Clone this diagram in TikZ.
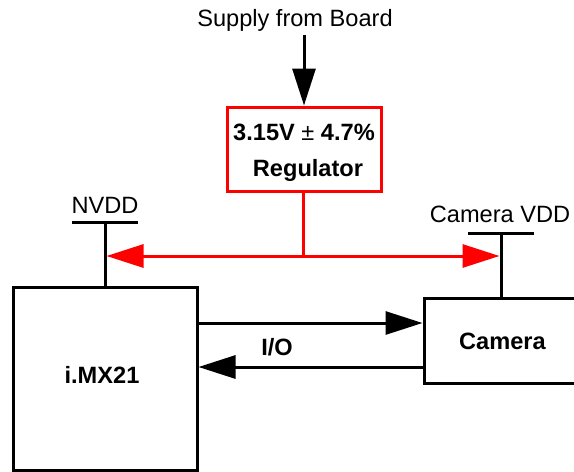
\documentclass[tikz,border=0pt]{standalone}
\usepackage{fontspec}
\setmainfont{Liberation Sans}
\usetikzlibrary{arrows.meta,calc}
\begin{document}
\begin{tikzpicture}[x=1pt,y=-1pt,
  txt/.style={font=\fontsize{23.6}{28}\selectfont, inner sep=0pt, anchor=base},
  btxt/.style={font=\fontsize{23.6}{28}\selectfont\bfseries, inner sep=0pt, anchor=base},
  blk/.style={draw=black, line width=3pt, minimum width=#1},
  bigarrow/.style={-{Triangle[length=37pt,width=23pt]}},
  wire/.style={line width=3pt},
  ]
\clip (0,0) rectangle (574,472);
\fill[white] (0,0) rectangle (574,472);
% boxes
\node[draw=red, line width=3pt, minimum width=154pt, minimum height=84pt, inner sep=0pt] (reg) at (304,149) {};
\node[blk=184pt, minimum height=183pt, inner sep=0pt] (imx) at (105,378.5) {};
\node[blk=170pt, minimum height=85pt, inner sep=0pt] (camera) at (509,340.5) {};
% texts
\node[txt] (supply) at (295,26) {Supply from Board};
\node[btxt] (regl1) at (304,140) {3.15V {\mdseries ±} 4.7\%};
\node[btxt] (regl2) at (308,176) {Regulator};
\node[btxt] (imxl) at (102,383) {i.MX21};
\node[btxt] (caml) at (502.5,349) {Camera};
\node[btxt] (io) at (277,355) {I/O};
\node[txt] (nvddl) at (105,213) {NVDD};
\node[txt] (camvddl) at (500,222) {Camera VDD};
% supply arrow
\coordinate (sup) at (304,35);
\draw[wire, bigarrow] (sup) -- (reg.north);
% NVDD
\coordinate (nvdd) at (105,222);
\coordinate (nvddL) at (72,222);
\coordinate (nvddR) at (138,222);
\draw[wire] (nvddL) -- (nvddR);
\draw[wire] (nvdd) -- (nvdd |- imx.north);
% Camera VDD
\coordinate (cvdd) at (501,233);
\coordinate (cvddL) at (468,233);
\coordinate (cvddR) at (534,233);
\draw[wire] (cvddL) -- (cvddR);
\draw[wire] (cvdd) -- (cvdd |- camera.north);
% red distribution
\coordinate (junc) at (303,256);
\draw[wire, red] (reg.south -| junc) -- (junc);
\draw[wire, red, bigarrow, shorten >=1.5pt] (junc) -- (nvdd |- junc);
\draw[wire, red, bigarrow, shorten >=1.5pt] (junc) -- (cvdd |- junc);
% I/O arrows
\draw[wire, bigarrow] (imx.east |- 0,323) -- (camera.west |- 0,323);
\draw[wire, bigarrow] (camera.west |- 0,367) -- (imx.east |- 0,367);
\end{tikzpicture}
\end{document}
